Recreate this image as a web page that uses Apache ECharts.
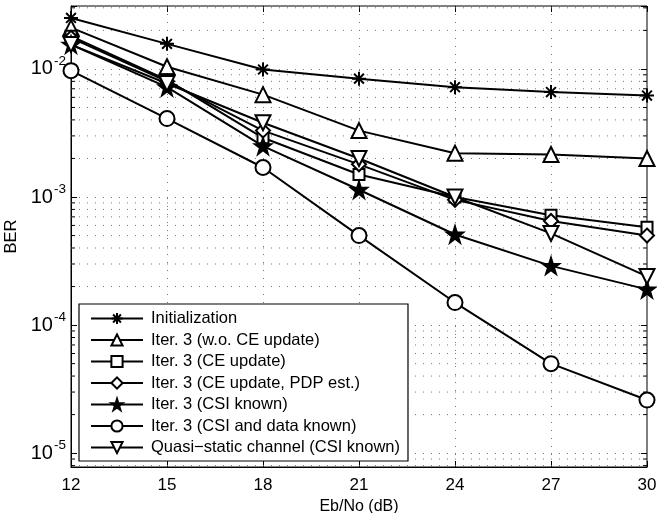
<!DOCTYPE html>
<html>
<head>
<meta charset="utf-8">
<script src="https://cdn.jsdelivr.net/npm/echarts@6/dist/echarts.min.js"></script>
</head>
<body style="margin:0; background:#fff">
<div id="container" style="width:657px;height:513px"></div>
<script>
// Eb/No points (dB)
const snr = [12, 15, 18, 21, 24, 27, 30];

const names = [
  'Initialization',
  'Iter. 3 (w.o. CE update)',
  'Iter. 3 (CE update)',
  'Iter. 3 (CE update, PDP est.)',
  'Iter. 3 (CSI known)',
  'Iter. 3 (CSI and data known)',
  'Quasi\u2212static channel (CSI known)'
];

// BER curves
const berInit     = [0.025, 0.0157, 0.0099, 0.0084, 0.0072, 0.0066, 0.0062];
const berNoCE     = [0.021, 0.0104, 0.0063, 0.0033, 0.0022, 0.00215, 0.0020];
const berCE       = [0.018, 0.0082, 0.0029, 0.0015, 0.0010, 0.00072, 0.00058];
const berPDP      = [0.0175, 0.0080, 0.0033, 0.0018, 0.00095, 0.00065, 0.00050];
const berCSI      = [0.0155, 0.0072, 0.0025, 0.00114, 0.00051, 0.00029, 0.00019];
const berCSIData  = [0.0097, 0.0041, 0.0017, 0.0005, 0.00015, 0.00005, 0.000026];
const berQuasi    = [0.0155, 0.0077, 0.0038, 0.0020, 0.0010, 0.00052, 0.00024];

const xTicks = [12, 15, 18, 21, 24, 27, 30];
const yExponents = [-5, -4, -3, -2];
const yMin = 7.8e-6, yMax = 0.031;
const decades = [1e-6, 1e-5, 1e-4, 1e-3, 1e-2];
const mantissas = [2, 3, 4, 5, 6, 7, 8, 9];

// minor log grid positions (2..9 x 10^k)
let minorVals = [];
decades.forEach(d => mantissas.forEach(m => {
  const v = m * d;
  if (v > yMin && v < yMax) minorVals.push(v);
}));

const FONT = 'Liberation Sans';
const asterisk = 'path://M10,0L10,20M0,10L20,10M3,3L17,17M3,17L17,3';
const pentagram = 'path://M10,0L12.25,6.91L19.51,6.91L13.63,11.18L15.88,18.09L10,13.82L4.12,18.09L6.37,11.18L0.49,6.91L7.75,6.91Z';
const downTri = 'path://M0,0L20,0L10,17.3Z';

function curve(name, values, symbol, size, fill) {
  return {
    name: name,
    type: 'line',
    data: snr.map((x, i) => [x, values[i]]),
    symbol: symbol,
    symbolSize: size,
    showAllSymbol: true,
    lineStyle: { color: '#000', width: 2 },
    itemStyle: { color: fill, borderColor: '#000', borderWidth: 2 },
    z: 3
  };
}

const chart = echarts.init(document.getElementById('container'));
chart.setOption({
  animation: false,
  backgroundColor: '#fff',
  textStyle: { fontFamily: FONT },
  grid: {
    left: 71, right: 10, top: 6, bottom: 46,
    show: true, borderColor: '#000', borderWidth: 1,
    outerBoundsMode: 'none'
  },
  legend: {
    data: names,
    orient: 'vertical',
    left: 79, top: 304,
    padding: [6, 8, 5, 11],
    itemWidth: 52, itemHeight: 14, itemGap: 4.5,
    backgroundColor: '#fff',
    borderColor: '#000', borderWidth: 1.2,
    textStyle: { fontFamily: FONT, fontSize: 16.5, color: '#000', padding: [0, 0, 0, 3] }
  },
  xAxis: [{
    type: 'value',
    min: 12, max: 30, interval: 3,
    name: 'Eb/No (dB)',
    nameLocation: 'middle',
    nameGap: 21,
    nameTextStyle: { fontFamily: FONT, fontSize: 16, color: '#000' },
    axisLine: { show: true, lineStyle: { color: '#000', width: 1 } },
    axisTick: { inside: true, length: 6, lineStyle: { color: '#000' } },
    axisLabel: { margin: 10, fontFamily: FONT, fontSize: 17, color: '#000',
      formatter: v => xTicks.indexOf(v) >= 0 ? String(v) : '' },
    splitLine: { show: true, lineStyle: { color: '#777', width: 1, type: [1, 7] } }
  }, {
    type: 'value', position: 'top',
    min: 12, max: 30, interval: 3,
    axisLine: { show: false },
    axisTick: { inside: true, length: 6, lineStyle: { color: '#000' } },
    axisLabel: { show: false },
    splitLine: { show: false }
  }],
  yAxis: [{
    type: 'log', logBase: 10,
    min: yMin, max: yMax,
    name: 'BER',
    nameLocation: 'middle',
    nameGap: 47,
    nameTextStyle: { fontFamily: FONT, fontSize: 16.5, color: '#000' },
    axisLine: { show: true, lineStyle: { color: '#000', width: 1 } },
    axisTick: { inside: true, length: 6, lineStyle: { color: '#000' } },
    axisLabel: {
      margin: 5,
      color: '#000',
      fontSize: 20,
      fontFamily: FONT,
      formatter: function (v) {
        const e = Math.log10(v), r = Math.round(e);
        if (Math.abs(e - r) > 1e-6 || yExponents.indexOf(r) < 0) return '';
        return '{man|10}{pow|' + r + '}';
      },
      rich: {
        man: { fontFamily: FONT, fontSize: 20, color: '#000' },
        pow: { fontFamily: FONT, fontSize: 13.5, color: '#000', padding: [0, 0, 15, 1] }
      }
    },
    splitLine: { show: true, lineStyle: { color: '#777', width: 1, type: [1, 7] } },
    minorTick: { show: false }
  }, {
    type: 'log', logBase: 10, position: 'right',
    min: yMin, max: yMax,
    axisLine: { show: false },
    axisTick: { inside: true, length: 6, lineStyle: { color: '#000' } },
    axisLabel: { show: false },
    splitLine: { show: false }
  }],
  series: [
    {
      name: 'minor grid',
      type: 'custom',
      z: 1,
      silent: true,
      data: minorVals.map(v => [12, v]),
      renderItem: function (params, api) {
        const v = api.value(1);
        const a = api.coord([12, v]);
        const b = api.coord([30, v]);
        return {
          type: 'group',
          children: [
            { type: 'line', shape: { x1: a[0], y1: a[1], x2: b[0], y2: b[1] },
              style: { stroke: '#777', lineWidth: 1, lineDash: [1, 7] } },
            { type: 'line', shape: { x1: a[0], y1: a[1], x2: a[0] + 4, y2: a[1] },
              style: { stroke: '#000', lineWidth: 1 } },
            { type: 'line', shape: { x1: b[0] - 4, y1: b[1], x2: b[0], y2: b[1] },
              style: { stroke: '#000', lineWidth: 1 } }
          ]
        };
      }
    },
    curve(names[0], berInit, asterisk, 14, '#000'),
    curve(names[1], berNoCE, 'triangle', 15, '#fff'),
    curve(names[2], berCE, 'rect', 11, '#fff'),
    curve(names[3], berPDP, 'diamond', 14, '#fff'),
    curve(names[4], berCSI, pentagram, 16, '#000'),
    curve(names[5], berCSIData, 'circle', 15, '#fff'),
    curve(names[6], berQuasi, downTri, 15, '#fff')
  ]
});
</script>
</body>
</html>
